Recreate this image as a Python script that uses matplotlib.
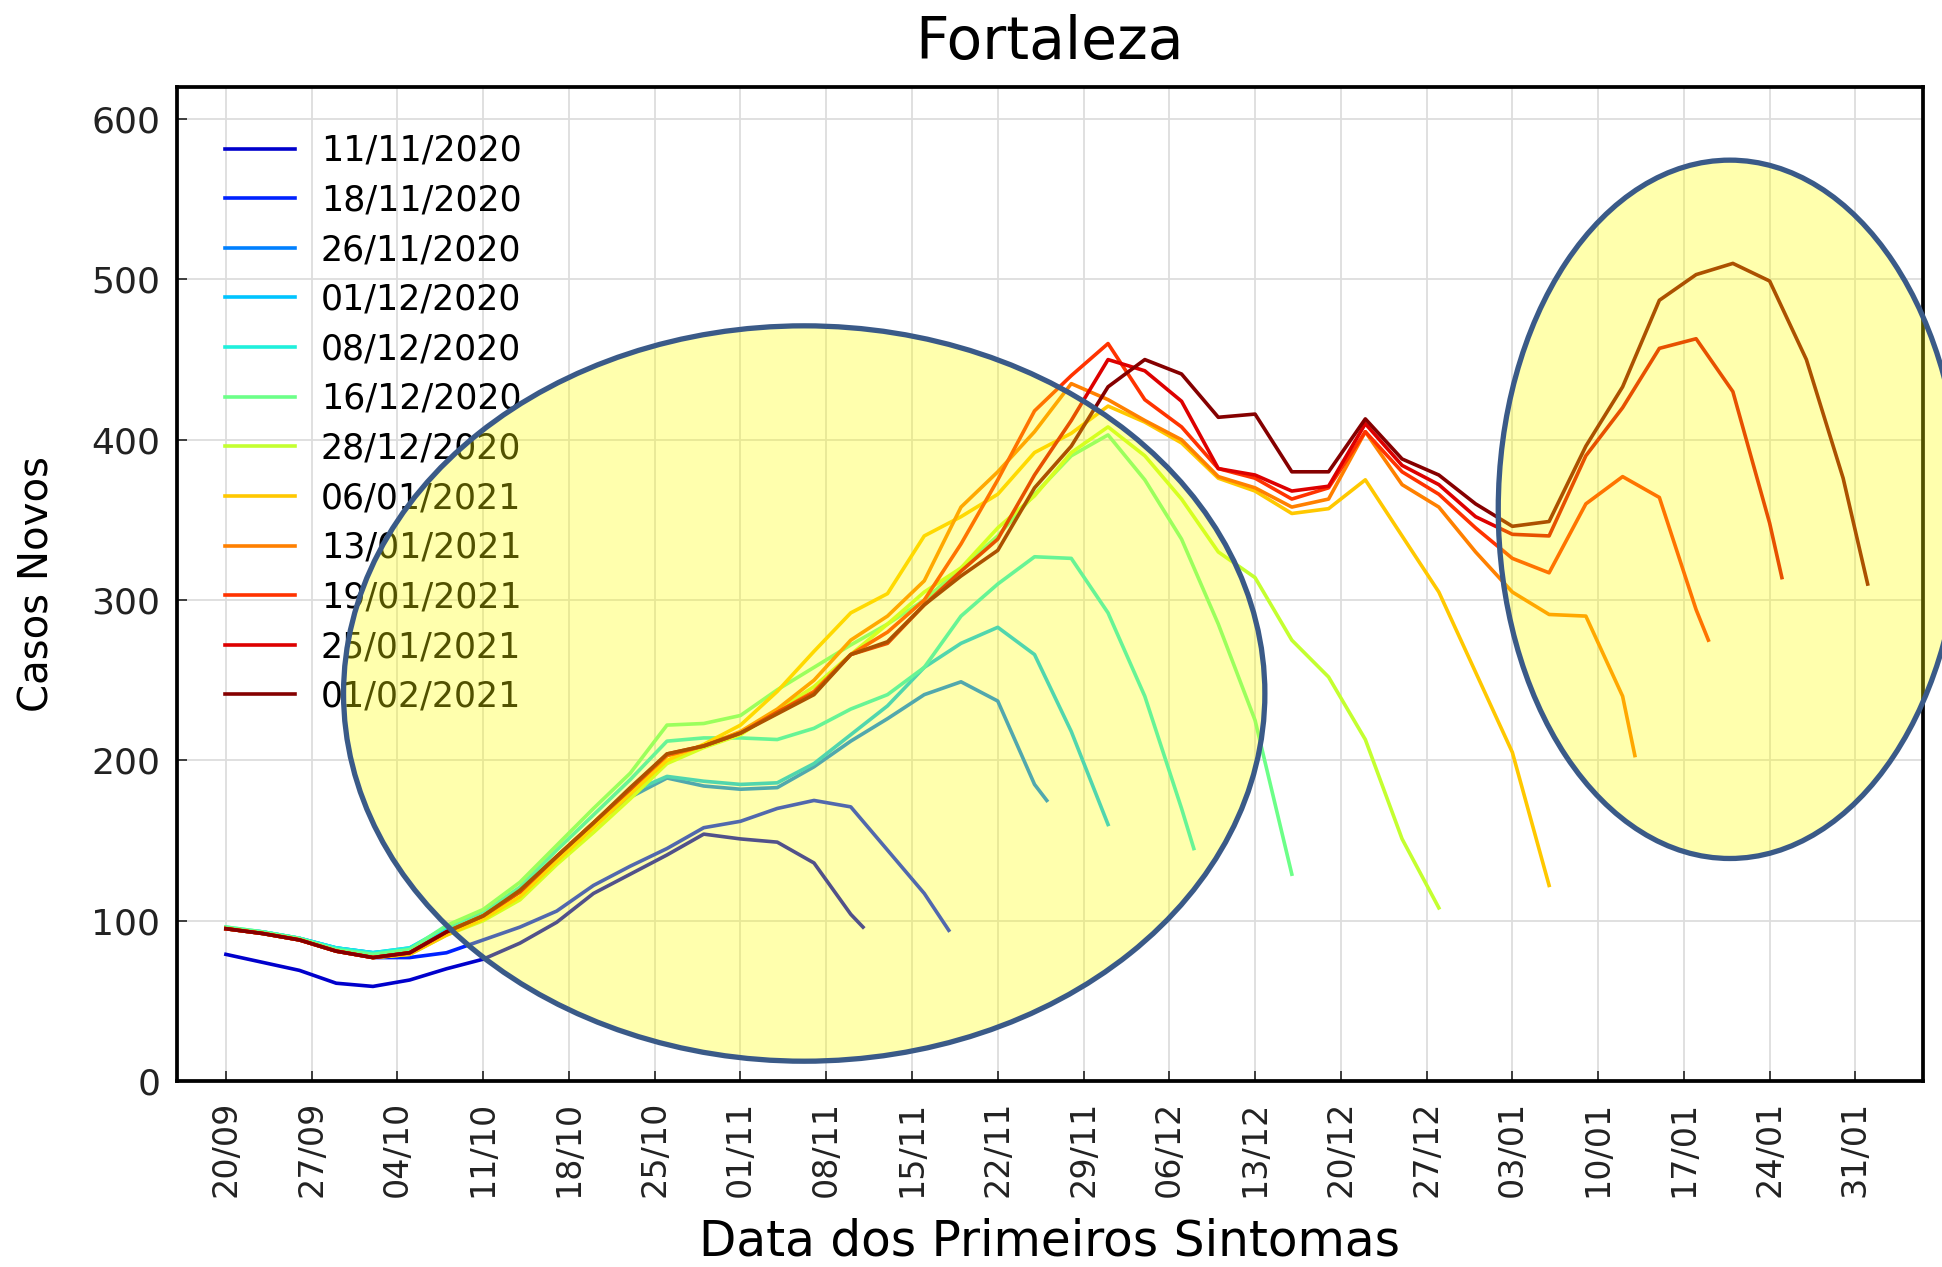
import numpy as np
import pandas as pd
import matplotlib
matplotlib.use("Agg")
import matplotlib.pyplot as plt
import matplotlib.dates as mdates
from matplotlib.patches import Ellipse

# ---- data (one value every 3 days + last day) ----
START = pd.Timestamp("2020-09-20")
STEP = 3

labels = ["11/11/2020", "18/11/2020", "26/11/2020", "01/12/2020", "08/12/2020",
          "16/12/2020", "28/12/2020", "06/01/2021", "13/01/2021", "19/01/2021",
          "25/01/2021", "01/02/2021"]
end_days = [52, 59, 67, 72, 79, 87, 99, 108, 115, 121, 127, 134]
colors = ["#0000cc", "#0022ff", "#0080ff", "#00c4ff", "#20f0dc", "#6cff88",
          "#c4ff30", "#ffc800", "#ff8000", "#ff3300", "#dd0000", "#850000"]

s_1111 = [79, 74, 69, 61, 59, 63, 70, 76, 86, 99, 117, 129, 141, 154, 151, 149,
          136, 104, 96]
s_1811 = [95, 92, 88, 81, 77, 77, 80, 88, 96, 106, 122, 134, 145, 158, 162, 170,
          175, 171, 144, 117, 94]
s_2611 = [95, 93, 89, 83, 80, 82, 94, 104, 119, 140, 160, 177, 189, 184, 182, 183,
          196, 212, 226, 241, 249, 237, 185, 175]
s_0112 = [95, 93, 89, 83, 80, 83, 95, 104, 119, 140, 161, 180, 190, 187, 185, 186,
          198, 216, 234, 258, 273, 283, 266, 218, 160]
s_0812 = [96, 93, 89, 83, 80, 83, 96, 105, 121, 144, 166, 188, 212, 214, 214, 213,
          220, 232, 241, 258, 290, 310, 327, 326, 292, 240, 170, 145]
s_1612 = [96, 93, 89, 82, 79, 82, 97, 107, 124, 147, 170, 192, 222, 223, 228, 244,
          258, 272, 285, 300, 320, 340, 366, 390, 403, 375, 338, 285, 225, 129]
s_2812 = [95, 92, 88, 81, 77, 79, 91, 100, 113, 135, 155, 176, 198, 208, 216, 231,
          246, 266, 285, 305, 320, 345, 365, 392, 408, 390, 363, 330, 314, 275,
          252, 213, 151, 108]
s_0601 = [95, 92, 88, 81, 77, 79, 91, 101, 115, 137, 158, 179, 200, 210, 222, 243,
          268, 292, 304, 340, 352, 366, 392, 404, 421, 411, 398, 376, 368, 354,
          357, 375, 340, 305, 255, 205, 122]
s_1301 = [95, 92, 88, 81, 77, 80, 93, 103, 118, 140, 161, 182, 203, 209, 218, 232,
          250, 275, 290, 312, 358, 380, 405, 435, 425, 412, 400, 377, 370, 358,
          363, 405, 372, 358, 330, 305, 291, 290, 240, 203]
s_1901 = [95, 92, 88, 81, 77, 80, 93, 103, 118, 140, 161, 182, 203, 209, 217, 230,
          243, 266, 280, 300, 335, 375, 418, 440, 460, 425, 408, 382, 376, 363,
          370, 405, 380, 366, 345, 326, 317, 360, 377, 364, 294, 275]
s_2501 = [95, 92, 88, 81, 77, 80, 93, 103, 118, 140, 161, 182, 204, 209, 217, 230,
          242, 266, 273, 297, 318, 338, 378, 412, 450, 443, 424, 382, 378, 368,
          371, 410, 384, 372, 352, 341, 340, 390, 420, 457, 463, 430, 348, 314]
s_0102 = [95, 92, 88, 81, 77, 80, 93, 103, 119, 140, 161, 183, 204, 209, 217, 229,
          241, 266, 274, 297, 315, 331, 370, 396, 433, 450, 441, 414, 416, 380,
          380, 413, 388, 378, 360, 346, 349, 396, 433, 487, 503, 510, 499, 450,
          376, 310]

series = [s_1111, s_1811, s_2611, s_0112, s_0812, s_1612, s_2812, s_0601,
          s_1301, s_1901, s_2501, s_0102]

# ---- figure ----
fig = plt.figure(figsize=(19.42, 12.67), dpi=100, facecolor="white")
ax = fig.add_axes([0.0911, 0.1468, 0.899, 0.7845])

for vals, end, col, lab in zip(series, end_days, colors, labels):
    days = list(range(0, end, STEP)) + [end]
    dates = [START + pd.Timedelta(days=d) for d in days]
    ax.plot(dates, vals, color=col, lw=2.6, label=lab)

ticks = pd.date_range("2020-09-20", "2021-01-31", freq="7D")
ax.set_xticks(ticks)
ax.xaxis.set_major_formatter(mdates.DateFormatter("%d/%m"))
ax.set_xlim(START - pd.Timedelta(days=4), START + pd.Timedelta(days=138.5))
ax.set_ylim(0, 620)
ax.set_yticks(range(0, 601, 100))

ax.grid(True, color="#dddddd", lw=1.3)
ax.set_axisbelow(True)
ax.tick_params(axis="both", direction="in", length=7, width=1.2, colors="#222222")
ax.tick_params(axis="x", labelsize=24, rotation=90, pad=14)
ax.tick_params(axis="y", labelsize=26, pad=12)
for sp in ax.spines.values():
    sp.set_linewidth(2.7)
    sp.set_color("black")

ax.set_title("Fortaleza", fontsize=42, pad=20)
ax.set_xlabel("Data dos Primeiros Sintomas", fontsize=35, labelpad=15)
ax.set_ylabel("Casos Novos", fontsize=29, labelpad=24)

ax.legend(loc="upper left", bbox_to_anchor=(0.0277, 0.953), frameon=False,
          fontsize=25, handlelength=2.0, handletextpad=0.75, labelspacing=0.45,
          borderpad=0, borderaxespad=0)

# highlight ellipses (drawn over everything)
for cday, cy, w, h in [(47.2, 241.7, 75.2, 458.7), (122.75, 356.6, 37.8, 435.6)]:
    cx = mdates.date2num(START + pd.Timedelta(days=cday))
    ax.add_patch(Ellipse((cx, cy), w, h, facecolor=(1, 1, 0), alpha=0.32,
                         edgecolor="none", zorder=10, clip_on=False))
    ax.add_patch(Ellipse((cx, cy), w, h, facecolor="none", edgecolor="#3a5a88",
                         lw=3.8, zorder=11, clip_on=False))

fig.savefig("out.png", dpi=100, facecolor="white")
